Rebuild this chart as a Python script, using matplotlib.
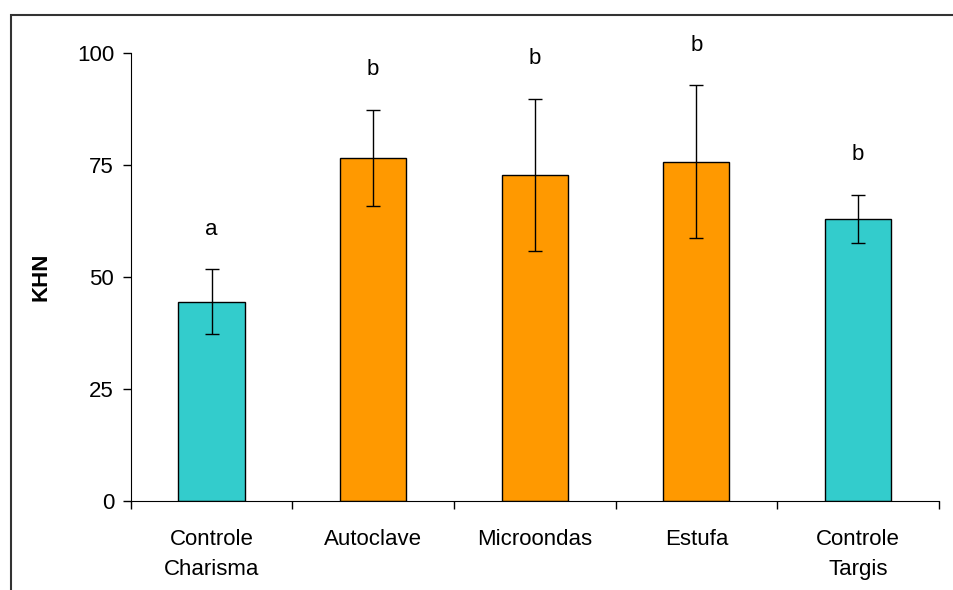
import matplotlib
matplotlib.use("Agg")
import matplotlib.pyplot as plt
from matplotlib.patches import Rectangle
import numpy as np

# KHN hardness per group
groups = ["Controle\nCharisma", "Autoclave", "Microondas", "Estufa", "Controle\nTargis"]
khn = [44.5, 76.6, 72.7, 75.7, 62.9]
err = [7.2, 10.8, 17.0, 17.1, 5.4]
letters = ["a", "b", "b", "b", "b"]
colors = ["#33CCCC", "#FF9900", "#FF9900", "#FF9900", "#33CCCC"]

plt.rcParams['font.family'] = ['Liberation Sans', 'DejaVu Sans']

fig = plt.figure(figsize=(9.54, 5.90), dpi=100)
ax = fig.add_axes([0.137, 0.151, 0.847, 0.759])

x = np.arange(len(groups))
ax.bar(x, khn, width=0.41, color=colors, edgecolor='black', linewidth=1.0, zorder=2)
ax.errorbar(x, khn, yerr=err, fmt='none', ecolor='black', elinewidth=1.0,
            capsize=5.3, capthick=1.0, zorder=3)

# significance letters above the error bars
for xi, m, e, lab in zip(x, khn, err, letters):
    ax.text(xi, m + e + 9, lab, ha='center', va='center', fontsize=16)

ax.set_xlim(-0.5, len(groups) - 0.5)
ax.set_ylim(0, 100)
ax.set_yticks([0, 25, 50, 75, 100])
ax.set_xticks(np.arange(len(groups) + 1) - 0.5)
ax.set_xticklabels([])
ax.set_xticks(x, minor=True)
ax.set_xticklabels(groups, minor=True, fontsize=16, linespacing=1.6)
ax.tick_params(axis='x', which='minor', length=0, pad=20)
ax.tick_params(axis='x', which='major', length=6, width=1, direction='out')
ax.tick_params(axis='y', length=6, width=1, direction='out', labelsize=16, pad=6)

ax.spines['top'].set_visible(False)
ax.spines['right'].set_visible(False)
ax.set_ylabel('KHN', fontsize=16, fontweight='bold', labelpad=18)

# outer chart-area border (cut off at right and bottom)
fig.patches.append(Rectangle((11 / 954, -0.05), 1.2, 1.05 - 15 / 590,
                             transform=fig.transFigure, fill=False,
                             edgecolor='#333333', linewidth=1.5))

fig.savefig("out.png", dpi=100)
